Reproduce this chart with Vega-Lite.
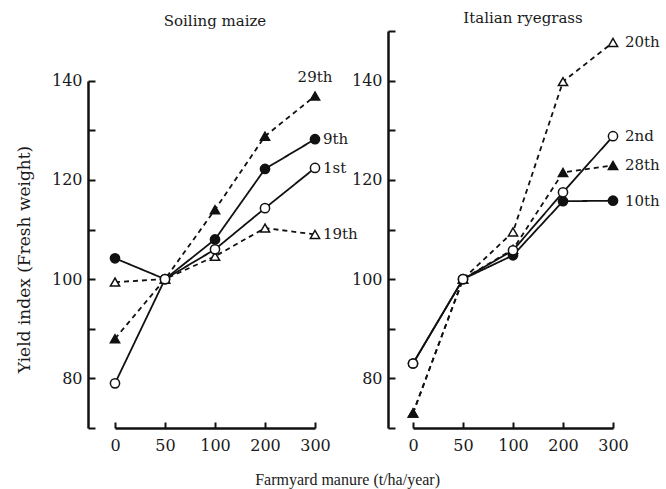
{
  "$schema": "https://vega.github.io/schema/vega-lite/v6.json",
  "padding": {"left": 15, "top": 11, "right": 5, "bottom": 5},
  "background": "white",
  "config": {
    "font": "DejaVu Serif",
    "view": {"stroke": null},
    "axis": {
      "grid": false,
      "domainColor": "#111",
      "tickColor": "#111",
      "labelColor": "#1a1a1a",
      "titleColor": "#1a1a1a",
      "labelFont": "DejaVu Serif",
      "titleFont": "DejaVu Serif",
      "labelFontSize": 16,
      "titleFontSize": 17,
      "titleFontWeight": "normal",
      "domainWidth": 2.5,
      "tickWidth": 2
    },
    "title": {"font": "DejaVu Serif", "fontWeight": "normal", "fontSize": 15, "color": "#1a1a1a"}
  },
  "title": {"text": "Farmyard manure  (t/ha/year)", "orient": "bottom", "anchor": "middle", "offset": 19, "font": "Liberation Serif", "fontSize": 16, "dx": 10},
  "data": {"values": [
    {"crop": "Soiling maize", "series": "9th", "manure": 0, "yield": 104.2},
    {"crop": "Soiling maize", "series": "9th", "manure": 50, "yield": 100},
    {"crop": "Soiling maize", "series": "9th", "manure": 100, "yield": 108},
    {"crop": "Soiling maize", "series": "9th", "manure": 200, "yield": 122.2},
    {"crop": "Soiling maize", "series": "9th", "manure": 300, "yield": 128.2},
    {"crop": "Soiling maize", "series": "29th", "manure": 0, "yield": 88},
    {"crop": "Soiling maize", "series": "29th", "manure": 50, "yield": 100},
    {"crop": "Soiling maize", "series": "29th", "manure": 100, "yield": 114},
    {"crop": "Soiling maize", "series": "29th", "manure": 200, "yield": 128.8},
    {"crop": "Soiling maize", "series": "29th", "manure": 300, "yield": 136.9},
    {"crop": "Soiling maize", "series": "19th", "manure": 0, "yield": 99.4},
    {"crop": "Soiling maize", "series": "19th", "manure": 50, "yield": 100},
    {"crop": "Soiling maize", "series": "19th", "manure": 100, "yield": 104.6},
    {"crop": "Soiling maize", "series": "19th", "manure": 200, "yield": 110.3},
    {"crop": "Soiling maize", "series": "19th", "manure": 300, "yield": 109},
    {"crop": "Soiling maize", "series": "1st", "manure": 0, "yield": 79},
    {"crop": "Soiling maize", "series": "1st", "manure": 50, "yield": 100},
    {"crop": "Soiling maize", "series": "1st", "manure": 100, "yield": 106},
    {"crop": "Soiling maize", "series": "1st", "manure": 200, "yield": 114.3},
    {"crop": "Soiling maize", "series": "1st", "manure": 300, "yield": 122.4},
    {"crop": "Italian ryegrass", "series": "20th", "manure": 0, "yield": 73},
    {"crop": "Italian ryegrass", "series": "20th", "manure": 50, "yield": 100},
    {"crop": "Italian ryegrass", "series": "20th", "manure": 100, "yield": 109.5},
    {"crop": "Italian ryegrass", "series": "20th", "manure": 200, "yield": 139.8},
    {"crop": "Italian ryegrass", "series": "20th", "manure": 300, "yield": 147.7},
    {"crop": "Italian ryegrass", "series": "28th", "manure": 0, "yield": 73},
    {"crop": "Italian ryegrass", "series": "28th", "manure": 50, "yield": 100},
    {"crop": "Italian ryegrass", "series": "28th", "manure": 100, "yield": 106},
    {"crop": "Italian ryegrass", "series": "28th", "manure": 200, "yield": 121.5},
    {"crop": "Italian ryegrass", "series": "28th", "manure": 300, "yield": 122.9},
    {"crop": "Italian ryegrass", "series": "10th", "manure": 0, "yield": 83},
    {"crop": "Italian ryegrass", "series": "10th", "manure": 50, "yield": 100},
    {"crop": "Italian ryegrass", "series": "10th", "manure": 100, "yield": 104.8},
    {"crop": "Italian ryegrass", "series": "10th", "manure": 200, "yield": 115.7},
    {"crop": "Italian ryegrass", "series": "10th", "manure": 300, "yield": 115.8},
    {"crop": "Italian ryegrass", "series": "2nd", "manure": 0, "yield": 83},
    {"crop": "Italian ryegrass", "series": "2nd", "manure": 50, "yield": 100},
    {"crop": "Italian ryegrass", "series": "2nd", "manure": 100, "yield": 105.8},
    {"crop": "Italian ryegrass", "series": "2nd", "manure": 200, "yield": 117.5},
    {"crop": "Italian ryegrass", "series": "2nd", "manure": 300, "yield": 128.8}
  ]},
  "bounds": "flush",
  "spacing": 98,
  "resolve": {"scale": {"y": "independent", "shape": "independent", "fill": "independent", "strokeDash": "independent"}},
  "hconcat": [
    {
      "width": 200,
      "height": 397,
      "title": {"text": "Soiling maize", "offset": 2},
      "transform": [{"filter": "datum.crop == 'Soiling maize'"}],
      "encoding": {
        "x": {"field": "manure", "type": "ordinal", "sort": "ascending",
              "scale": {"type": "point", "padding": 0},
              "axis": {"title": null, "labelAngle": 0, "tickSize": -6, "labelPadding": 15, "domainWidth": 2.5, "domainColor": "#111"}},
        "y": {"field": "yield", "type": "quantitative",
              "scale": {"domain": [70, 150], "nice": false, "zero": false},
              "axis": {"title": "Yield index (Fresh weight)", "values": [70, 80, 90, 100, 110, 120, 130, 140],
                       "labelExpr": "datum.value % 20 == 0 && datum.value > 70 ? datum.label : ''",
                       "offset": 27, "tickSize": -7, "labelPadding": 13, "domainWidth": 2.5, "domainColor": "#111",
                       "domainDash": [347, 1000], "titlePadding": 18, "titleY": 228}}
      },
      "layer": [
        {"mark": {"type": "line", "color": "#111", "strokeWidth": 1.8},
         "encoding": {"detail": {"field": "series"},
                      "strokeDash": {"field": "series", "legend": null,
                                     "scale": {"domain": ["1st", "9th", "19th", "29th"], "range": [[1, 0], [1, 0], [5, 4], [5, 4]]}}}},
        {"mark": {"type": "point", "filled": true, "stroke": "#111", "strokeWidth": 1.5, "size": 85, "opacity": 1},
         "encoding": {"shape": {"field": "series", "legend": null,
                                "scale": {"domain": ["1st", "9th", "19th", "29th"], "range": ["circle", "circle", "triangle-up", "triangle-up"]}},
                      "fill": {"field": "series", "legend": null,
                               "scale": {"domain": ["1st", "9th", "19th", "29th"], "range": ["white", "#111", "white", "#111"]}}}},
        {"transform": [{"filter": "datum.manure == 300 && datum.series != '29th'"}],
         "mark": {"type": "text", "align": "left", "baseline": "middle", "dx": 8, "fontSize": 15, "color": "#1a1a1a"},
         "encoding": {"text": {"field": "series"}}},
        {"transform": [{"filter": "datum.manure == 300 && datum.series == '29th'"}],
         "mark": {"type": "text", "align": "center", "baseline": "middle", "dy": -19, "fontSize": 15, "color": "#1a1a1a"},
         "encoding": {"text": {"field": "series"}}}
      ]
    },
    {
      "width": 200,
      "height": 397,
      "title": {"text": "Italian ryegrass", "offset": 4, "dx": 10},
      "transform": [{"filter": "datum.crop == 'Italian ryegrass'"}],
      "encoding": {
        "x": {"field": "manure", "type": "ordinal", "sort": "ascending",
              "scale": {"type": "point", "padding": 0},
              "axis": {"title": null, "labelAngle": 0, "tickSize": -6, "labelPadding": 15, "domainWidth": 2.5, "domainColor": "#111"}},
        "y": {"field": "yield", "type": "quantitative",
              "scale": {"domain": [70, 150], "nice": false, "zero": false},
              "axis": {"title": null, "values": [70, 80, 90, 100, 110, 120, 130, 140, 150],
                       "labelExpr": "datum.value % 20 == 0 && datum.value > 70 && datum.value < 150 ? datum.label : ''",
                       "offset": 25, "tickSize": -7, "labelPadding": 13, "domainWidth": 2.5, "domainColor": "#111"}}
      },
      "layer": [
        {"mark": {"type": "line", "color": "#111", "strokeWidth": 1.8},
         "encoding": {"detail": {"field": "series"},
                      "strokeDash": {"field": "series", "legend": null,
                                     "scale": {"domain": ["2nd", "10th", "20th", "28th"], "range": [[1, 0], [1, 0], [5, 4], [5, 4]]}}}},
        {"mark": {"type": "point", "filled": true, "stroke": "#111", "strokeWidth": 1.5, "size": 85, "opacity": 1},
         "encoding": {"shape": {"field": "series", "legend": null,
                                "scale": {"domain": ["2nd", "10th", "20th", "28th"], "range": ["circle", "circle", "triangle-up", "triangle-up"]}},
                      "fill": {"field": "series", "legend": null,
                               "scale": {"domain": ["2nd", "10th", "20th", "28th"], "range": ["white", "#111", "white", "#111"]}}}},
        {"transform": [{"filter": "datum.manure == 300"}],
         "mark": {"type": "text", "align": "left", "baseline": "middle", "dx": 12, "fontSize": 15, "color": "#1a1a1a"},
         "encoding": {"text": {"field": "series"}}}
      ]
    }
  ]
}
